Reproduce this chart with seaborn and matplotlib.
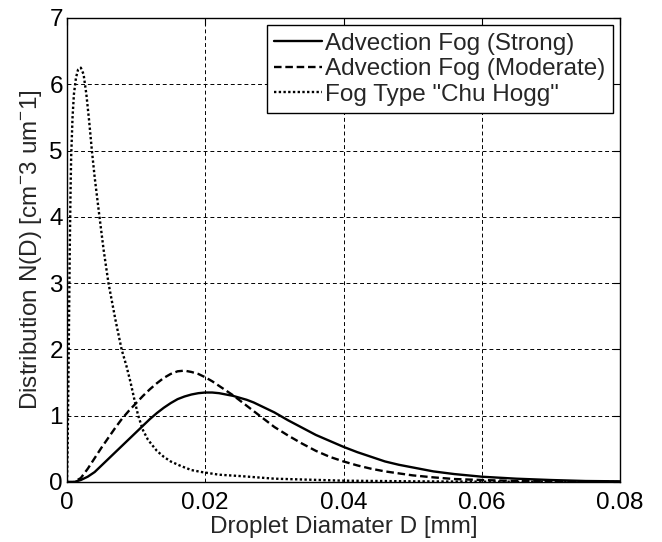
import matplotlib
matplotlib.use("Agg")
import matplotlib.pyplot as plt
import seaborn as sns
import pandas as pd

# Droplet diameter D [mm] and N(D) values
d_strong = [0.0, 0.001, 0.002, 0.003, 0.004, 0.005, 0.006, 0.007, 0.008, 0.009, 0.010,
            0.011, 0.012, 0.013, 0.014, 0.015, 0.016, 0.017, 0.018, 0.019, 0.020,
            0.021, 0.022, 0.023, 0.024, 0.025, 0.026, 0.027, 0.028, 0.029, 0.030,
            0.032, 0.034, 0.036, 0.038, 0.040, 0.042, 0.044, 0.046, 0.048, 0.050,
            0.053, 0.056, 0.060, 0.065, 0.070, 0.075, 0.080]
n_strong = [0.0, 0.0, 0.03, 0.08, 0.15, 0.25, 0.35, 0.45, 0.55, 0.65, 0.75,
            0.85, 0.95, 1.04, 1.12, 1.19, 1.25, 1.29, 1.32, 1.34, 1.35,
            1.35, 1.34, 1.32, 1.30, 1.27, 1.24, 1.20, 1.15, 1.10, 1.05,
            0.93, 0.82, 0.71, 0.62, 0.53, 0.45, 0.38, 0.31, 0.26, 0.22,
            0.16, 0.12, 0.08, 0.05, 0.03, 0.015, 0.01]

d_moderate = [0.0, 0.001, 0.002, 0.003, 0.004, 0.005, 0.006, 0.007, 0.008, 0.009, 0.010,
              0.011, 0.012, 0.013, 0.014, 0.015, 0.016, 0.017, 0.018, 0.019, 0.020,
              0.021, 0.022, 0.023, 0.024, 0.025, 0.026, 0.027, 0.028, 0.029, 0.030,
              0.032, 0.034, 0.036, 0.038, 0.040, 0.042, 0.044, 0.046, 0.048, 0.050,
              0.053, 0.056, 0.060, 0.065, 0.070, 0.080]
n_moderate = [0.0, 0.0, 0.06, 0.20, 0.36, 0.52, 0.67, 0.82, 0.96, 1.08, 1.19,
              1.30, 1.40, 1.49, 1.57, 1.63, 1.67, 1.68, 1.66, 1.63, 1.58,
              1.52, 1.45, 1.38, 1.31, 1.23, 1.15, 1.07, 0.99, 0.91, 0.83,
              0.70, 0.58, 0.47, 0.38, 0.31, 0.25, 0.20, 0.16, 0.13, 0.10,
              0.07, 0.045, 0.03, 0.015, 0.01, 0.0]

d_chu = [0.0, 0.0001, 0.0002, 0.0003, 0.0004, 0.0005, 0.0006, 0.0008, 0.001, 0.0013,
         0.0016, 0.002, 0.0024, 0.0028, 0.0032, 0.0036, 0.004, 0.0047, 0.0053, 0.006,
         0.007, 0.0079, 0.0086, 0.0092, 0.0098, 0.0103, 0.011, 0.0117, 0.0123, 0.013,
         0.014, 0.015, 0.0165, 0.018, 0.0195, 0.022, 0.025, 0.030, 0.035, 0.040,
         0.050, 0.060, 0.080]
n_chu = [0.0, 0.6, 1.5, 2.5, 3.5, 4.3, 4.9, 5.5, 5.85, 6.1,
         6.22, 6.25, 6.15, 5.85, 5.45, 5.0, 4.6, 4.0, 3.5, 3.0,
         2.45, 2.0, 1.75, 1.5, 1.22, 1.0, 0.78, 0.64, 0.56, 0.47,
         0.38, 0.31, 0.24, 0.18, 0.15, 0.11, 0.09, 0.05, 0.035, 0.02,
         0.01, 0.005, 0.0]

labels = ["Advection Fog (Strong)", "Advection Fog (Moderate)", 'Fog Type "Chu Hogg"']
x_ticks = [0, 0.02, 0.04, 0.06, 0.08]
x_tick_labels = ["0", "0.02", "0.04", "0.06", "0.08"]
y_ticks = [0, 1, 2, 3, 4, 5, 6, 7]

df = pd.concat([
    pd.DataFrame({"D": d_strong, "N": n_strong, "type": labels[0]}),
    pd.DataFrame({"D": d_moderate, "N": n_moderate, "type": labels[1]}),
    pd.DataFrame({"D": d_chu, "N": n_chu, "type": labels[2]}),
], ignore_index=True)

sns.set_style("white")
plt.rcParams["font.family"] = ["Liberation Sans", "DejaVu Sans"]
plt.rcParams["mathtext.fontset"] = "custom"
plt.rcParams["mathtext.rm"] = "Liberation Sans"
plt.rcParams["mathtext.it"] = "Liberation Sans"

FS = 17.5

fig = plt.figure(figsize=(6.62, 5.42), dpi=100)
ax = fig.add_axes([67/662, 60/542, (620-67)/662, (482-18)/542])

styles = {labels[0]: "-", labels[1]: (0, (3.2, 1.6)), labels[2]: (0, (1, 1))}
for lab in labels:
    sub = df[df["type"] == lab]
    sns.lineplot(data=sub, x="D", y="N", ax=ax, color="black", linewidth=1.7,
                 linestyle=styles[lab], label=lab, estimator=None, sort=False)

ax.set_xlim(0, 0.08)
ax.set_ylim(0, 7)
ax.set_xticks(x_ticks)
ax.set_xticklabels(x_tick_labels)
ax.set_yticks(y_ticks)
ax.grid(True, color="black", linestyle=(0, (4, 3)), linewidth=0.7)
ax.tick_params(direction="in", top=True, right=True, length=5, width=0.8,
               labelsize=FS, colors="black")
ax.tick_params(axis="x", pad=7)
ax.tick_params(axis="y", pad=3)
for s in ax.spines.values():
    s.set_color("black")
    s.set_linewidth(1.0)

ax.set_xlabel("Droplet Diamater D [mm]", fontsize=FS, labelpad=2)
ax.set_ylabel(r"Distribution N(D) [cm$^{-}$3 um$^{-}$1]", fontsize=FS, labelpad=4)

leg = ax.legend(loc="upper right", fontsize=FS, frameon=True, fancybox=False,
                edgecolor="black", framealpha=1, borderaxespad=0.3,
                handlelength=1.95, handletextpad=0.15, labelspacing=0.15,
                borderpad=0.3)
leg.get_frame().set_linewidth(1.0)

fig.savefig("out.png", dpi=100)
